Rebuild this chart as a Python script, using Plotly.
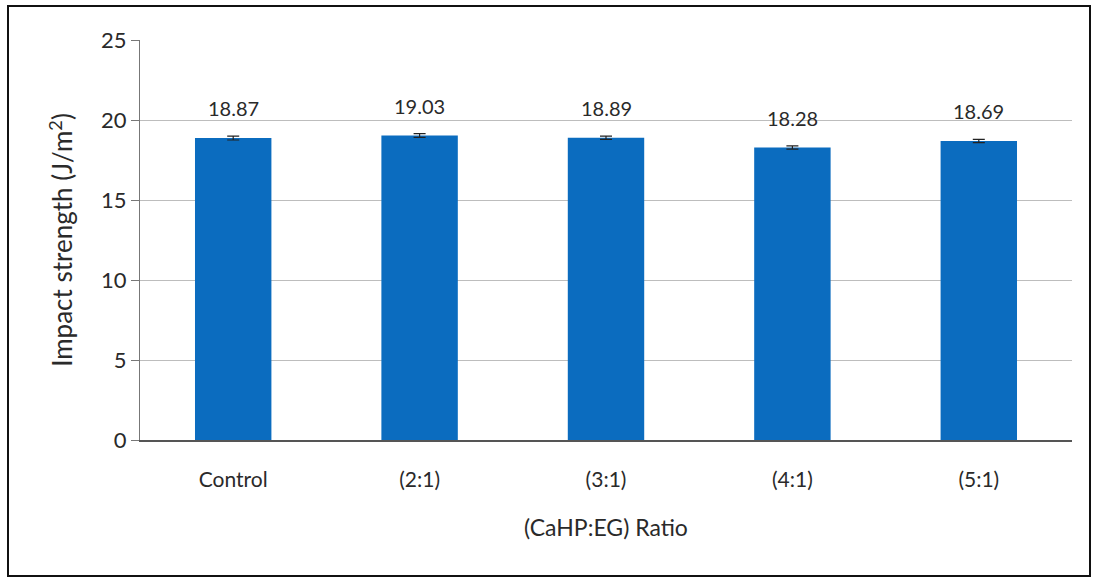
import plotly.graph_objects as go

# Impact strength by CaHP:EG ratio
categories = ["Control", "(2:1)", "(3:1)", "(4:1)", "(5:1)"]
impact_strength = [18.87, 19.03, 18.89, 18.28, 18.69]
error_sd = [0.12, 0.12, 0.1, 0.1, 0.1]
y_ticks = [0, 5, 10, 15, 20, 25]

FONT = "Lato"
BAR_COLOR = "#0b6cbf"
TEXT_COLOR = "#2a2a2a"

fig = go.Figure()
fig.add_trace(go.Bar(
    x=categories,
    y=impact_strength,
    marker=dict(color=BAR_COLOR, line=dict(width=0)),
    error_y=dict(type="data", array=error_sd, visible=True,
                 color="#222222", thickness=1.2, width=6),
    hoverinfo="skip",
))

# value labels sit well above each bar
for cat, val in zip(categories, impact_strength):
    fig.add_annotation(
        x=cat, y=val, text=f"{val:.2f}", showarrow=False,
        yanchor="bottom", yshift=16,
        font=dict(family=FONT, size=20, color=TEXT_COLOR),
    )

fig.update_layout(
    width=1107, height=588,
    margin=dict(l=140, r=35, t=40, b=148),
    paper_bgcolor="white",
    plot_bgcolor="white",
    bargap=0.59,
    showlegend=False,
    font=dict(family=FONT, color=TEXT_COLOR),
    xaxis=dict(
        showline=True, linecolor="#555555", linewidth=1.5,
        ticks="", tickfont=dict(size=21, family=FONT, color=TEXT_COLOR),
        ticklabelstandoff=20,
        title=dict(text="(CaHP:EG) Ratio", font=dict(size=23, family=FONT, color=TEXT_COLOR), standoff=30),
    ),
    yaxis=dict(
        range=[0, 25], tickvals=y_ticks,
        showline=True, linecolor="#777777", linewidth=1,
        ticks="outside", ticklen=8, tickcolor="#777777",
        showgrid=True, gridcolor="#bdbdbd", gridwidth=1,
        zeroline=False,
        tickfont=dict(size=22, family=FONT, color=TEXT_COLOR),
        title=dict(text="Impact strength (J/m<sup>2</sup>)", font=dict(size=26, family=FONT, color=TEXT_COLOR), standoff=20),
    ),
    shapes=[dict(
        type="rect", xref="paper", yref="paper",
        x0=(8 - 140) / 932, x1=(1090 - 140) / 932,
        y0=(440 - 576) / 400, y1=(440 - 6) / 400,
        line=dict(color="#111111", width=2), fillcolor="rgba(0,0,0,0)",
        layer="below",
    )],
)

fig.write_html("out.html")
